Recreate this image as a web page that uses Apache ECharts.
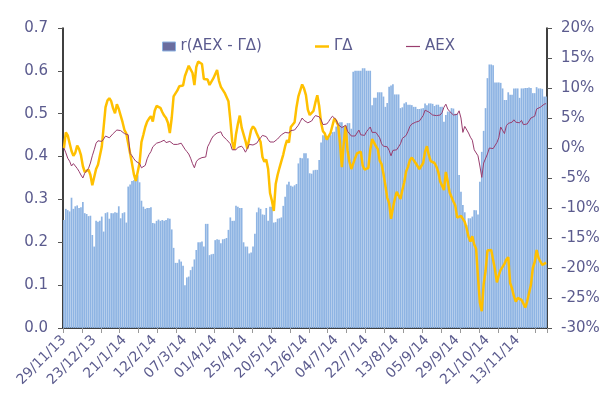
<!DOCTYPE html>
<html><head><meta charset="utf-8">
<script src="https://cdn.jsdelivr.net/npm/echarts@6/dist/echarts.min.js"></script>
<style>html,body{margin:0;padding:0;background:#fff}#c{width:608px;height:401px}</style>
</head><body><div id="c"></div>
<script>
const dateLabels = ['29/11/13','23/12/13','21/1/14','12/2/14','07/3/14','01/4/14','25/4/14','20/5/14','12/6/14','04/7/14','22/7/14','13/8/14','05/9/14','29/9/14','21/10/14','13/11/14'];
const seriesNames = ['r(AEX - ΓΔ)', 'ΓΔ', 'AEX'];
const corr = [
0.252,0.278,0.275,0.272,0.304,0.278,0.284,0.286,0.28,0.282,
0.294,0.268,0.266,0.261,0.262,0.217,0.19,0.25,0.248,0.25,
0.26,0.225,0.268,0.27,0.255,0.268,0.268,0.27,0.269,0.284,
0.256,0.268,0.27,0.246,0.33,0.335,0.343,0.345,0.357,0.356,
0.34,0.297,0.283,0.278,0.28,0.28,0.282,0.245,0.244,0.25,
0.253,0.25,0.252,0.25,0.252,0.256,0.255,0.23,0.187,0.152,
0.152,0.16,0.155,0.145,0.1,0.118,0.12,0.135,0.143,0.16,
0.182,0.2,0.2,0.202,0.19,0.243,0.243,0.17,0.172,0.173,
0.205,0.207,0.206,0.198,0.207,0.208,0.21,0.229,0.258,0.25,
0.25,0.285,0.283,0.28,0.28,0.2,0.19,0.19,0.174,0.176,
0.19,0.22,0.27,0.281,0.278,0.265,0.264,0.28,0.25,0.283,
0.283,0.246,0.247,0.255,0.256,0.258,0.285,0.306,0.335,0.341,
0.332,0.33,0.333,0.336,0.384,0.397,0.396,0.408,0.408,0.396,
0.361,0.36,0.368,0.369,0.369,0.392,0.433,0.45,0.45,0.446,
0.449,0.45,0.457,0.458,0.47,0.478,0.48,0.48,0.47,0.47,
0.478,0.478,0.465,0.598,0.6,0.6,0.6,0.6,0.606,0.606,
0.6,0.6,0.6,0.52,0.537,0.537,0.55,0.55,0.55,0.54,
0.516,0.525,0.563,0.566,0.569,0.545,0.545,0.545,0.513,0.515,
0.524,0.527,0.521,0.521,0.52,0.516,0.516,0.511,0.511,0.512,
0.513,0.524,0.52,0.524,0.524,0.523,0.518,0.521,0.521,0.516,
0.516,0.481,0.497,0.505,0.505,0.513,0.512,0.5,0.5,0.357,
0.318,0.287,0.27,0.24,0.256,0.256,0.26,0.275,0.275,0.265,
0.341,0.411,0.46,0.513,0.583,0.615,0.615,0.613,0.573,0.573,
0.573,0.572,0.559,0.532,0.532,0.55,0.544,0.544,0.559,0.559,
0.559,0.537,0.559,0.559,0.56,0.56,0.561,0.56,0.548,0.548,
0.562,0.559,0.559,0.558,0.54,0.54];
const gammaDelta = [
0,2.6,2.1,0.8,-0.5,-1.3,-0.8,0.4,-0.2,-1.2,
-3,-4,-4.2,-3.6,-4.5,-6.2,-6.5,-3.5,-2.8,-2.7,
0.2,3.5,6.8,7.9,8.3,7.8,6.6,5.8,7.3,6.5,
6.3,4.3,3,2.4,2.2,-0.9,-2.6,-4.4,-5.5,-5.6,
-2.5,1,2.2,3.5,4.4,4.9,5.3,4.4,6.2,7,
7.1,6.7,6,5.4,5,4.2,2.5,5,8.6,8.8,
9.6,10.3,10.6,10.4,12,12.3,13.7,13.6,12.5,10.5,
13.5,14.4,14.2,14,11.5,11.4,11.4,10.5,10.8,11.6,
12.3,13,11.2,10.2,9.7,9.2,8.5,7.8,4.7,1.1,
-0.3,2.3,4,5.4,3.4,3.1,1.2,-0.1,1.5,3,
3.6,3.2,2.4,2.6,1,-1.5,-2.3,-1.9,-3.5,-7.5,
-8.8,-10.5,-6,-4.5,-3.3,-2.2,-1.1,0.3,1.3,0.9,
3.5,3.5,4.3,6.8,8.6,9.6,10.6,9.9,8.8,6.4,
5.5,5.3,6.2,7.6,8.8,7,4.2,2.8,2.4,1.4,
1.5,2.5,3.7,4.9,4.5,3.8,0.8,-3.2,0.8,3.7,
-0.4,-2.3,-3.5,-3.3,-1.7,-0.9,-0.6,-0.6,-2.9,-3.6,
-3.7,-3.3,-0.4,1.5,1.3,0.3,-0.2,-2.1,-2.7,-4.3,
-6.2,-8.3,-9.2,-11.8,-10,-8.5,-7.3,-7,-8.5,-7,
-5.7,-3.9,-3.1,-2,-1.6,-1.5,-2.5,-2.8,-3.5,-3.8,
-2.5,-0.6,0.3,-1.2,-2.2,-2,-2.5,-3.1,-4,-5.6,
-5.8,-7,-4,-5.6,-7.4,-7.7,-8.9,-9.6,-11.6,-11.3,
-11.3,-11.6,-12.3,-13.4,-14.8,-15.6,-14.7,-16.1,-16.8,-21.5,
-25.8,-27.2,-22.7,-20.5,-17.1,-16.9,-17,-17.1,-20.3,-22.4,
-21.2,-20.3,-19.8,-19.3,-18.6,-18.2,-22.5,-23.4,-24.7,-25.6,
-25,-24.9,-25.3,-25.9,-26.6,-25.6,-25.6,-22.8,-20,-19,
-17,-18.3,-18.5,-19.5,-19.8,-19.1];
const aex = [
0,-0.8,-1.7,-2.2,-3,-2.6,-3,-3.4,-3.9,-4.5,
-5,-4.2,-3.9,-3.4,-2.5,-1.3,-0.3,0.8,1.2,0.9,
1.1,1.5,2,2.2,1.7,1.9,2.4,2.7,3,2.8,
2.9,2.8,2.4,2.2,2.2,-0.9,-1.3,-1.8,-2.2,-2.3,
-2.6,-3.3,-3.5,-2.9,-1.8,-1.1,-0.6,0.2,0.4,0.8,
0.9,1,1.3,1.3,0.9,1.2,1.1,0.8,0.6,0.6,
0.6,0.7,0.8,0.9,-0.2,-0.6,-1,-1.7,-2.6,-3.3,
-2.3,-1.9,-1.7,-1.6,-1.6,-1.5,0.2,0.8,1.5,2,
2.3,2.5,2.5,2.7,2,1.7,1.4,1.1,0.7,-0.3,
-0.6,-0.3,0.1,0.4,0.3,-0.1,-0.7,-0.1,0.6,0.6,
0.5,0.5,0.8,1.3,1.7,2.1,2,1.9,1.4,1,
0.8,1,1.2,1.5,1.8,2.2,2.5,2.6,2.6,2.5,
2.9,3.2,3,3.3,3.8,4.4,5,4.6,4.4,4.2,
4.2,4.5,5,5.4,5.5,5.2,4.7,3.9,3.6,4,
4.4,4.9,5.3,5.6,4.7,3.9,3.7,3.4,3.4,3.8,
2.8,2.7,2,2.3,2,2.2,3,2.2,1.9,2.1,
2.7,3.1,3.5,2.6,2.3,2.6,2.6,1.7,0.7,0.3,
0.4,0.2,-0.4,-1.3,-0.4,-0.5,-0.3,0.2,0.7,1.6,
1.9,2.1,2.8,3.6,4,4.1,4.3,4.4,4.5,4.8,
5.4,6.3,6.3,6,5.7,5.5,5.5,5.4,5.4,5.5,
5.9,6.8,7.3,6.5,6.1,5.8,5.5,5.5,5.6,6.2,
5,2.6,3.6,3.7,2.5,1.8,1.3,-0.3,-0.6,-1.3,
-3,-4.9,-2.5,-2.6,-1,0,0,-0.1,-0.2,0.9,
1.7,3.5,3.6,2.4,3.7,4.1,3.8,4.3,4.7,4.3,
4.1,4.2,4.6,3.9,3.8,4,4.5,5,5.3,5.3,
6.5,6.7,6.8,7,7.3,7.4];

const LABEL_EVERY = 16;
const days = corr.map((_, i) => String(i));
const txt = '#5b5b8e';
const font = 'DejaVu Sans';
const gold = '#ffc000';
const plum = '#993d6e';
const legendText = {color: txt, fontFamily: font, fontSize: 15};
const chart = echarts.init(document.getElementById('c'), null, {renderer: 'canvas'});
chart.setOption({
  animation: false,
  backgroundColor: '#fff',
  grid: {left: 63, right: 61, top: 28, bottom: 73},
  legend: [
    {data: [{name: seriesNames[0], icon: 'rect', itemStyle: {color: '#6a6d9f', borderColor: '#8db3e2', borderWidth: 1}}],
     left: 157, top: 34, itemWidth: 13, itemHeight: 9, textStyle: legendText},
    {data: [{name: seriesNames[1], icon: 'rect', itemStyle: {color: gold, borderWidth: 0}}],
     left: 310, top: 34, itemWidth: 14, itemHeight: 2.5, textStyle: legendText},
    {data: [{name: seriesNames[2], icon: 'rect', itemStyle: {color: plum, borderWidth: 0}}],
     left: 401, top: 34, itemWidth: 14, itemHeight: 1.2, textStyle: legendText}
  ],
  xAxis: {
    type: 'category', data: days, boundaryGap: true,
    axisLine: {lineStyle: {color: '#000', width: 1.5}},
    axisTick: {show: true, interval: 9, length: 5, lineStyle: {color: '#999'}},
    axisLabel: {interval: LABEL_EVERY - 1, rotate: 45, margin: 10, color: txt, fontFamily: font, fontSize: 14,
      formatter: (v, idx) => (idx % LABEL_EVERY === 0 ? dateLabels[idx / LABEL_EVERY] : '')},
    splitLine: {show: false}
  },
  yAxis: [
    {type: 'value', min: 0, max: 0.7, interval: 0.1, position: 'left',
     axisLine: {show: true, lineStyle: {color: '#000', width: 1.5}},
     axisTick: {show: true, length: 5, lineStyle: {color: '#555'}},
     axisLabel: {margin: 15, color: txt, fontFamily: font, fontSize: 15, formatter: v => v.toFixed(1)},
     splitLine: {show: false}},
    {type: 'value', min: -30, max: 20, interval: 5, position: 'right',
     axisLine: {show: true, lineStyle: {color: '#000', width: 1.5}},
     axisTick: {show: true, length: 5, lineStyle: {color: '#555'}},
     axisLabel: {margin: 14, color: txt, fontFamily: font, fontSize: 15, formatter: '{value}%'},
     splitLine: {show: false}}
  ],
  series: [
    {name: seriesNames[0], type: 'bar', yAxisIndex: 0, data: corr, barCategoryGap: '10%',
     itemStyle: {color: '#8eb4e3'}},
    {name: seriesNames[1], type: 'line', yAxisIndex: 1, data: gammaDelta, symbol: 'none',
     lineStyle: {color: gold, width: 2.5}, itemStyle: {color: gold}},
    {name: seriesNames[2], type: 'line', yAxisIndex: 1, data: aex, symbol: 'none',
     lineStyle: {color: plum, width: 1}, itemStyle: {color: plum}}
  ]
});
</script></body></html>
